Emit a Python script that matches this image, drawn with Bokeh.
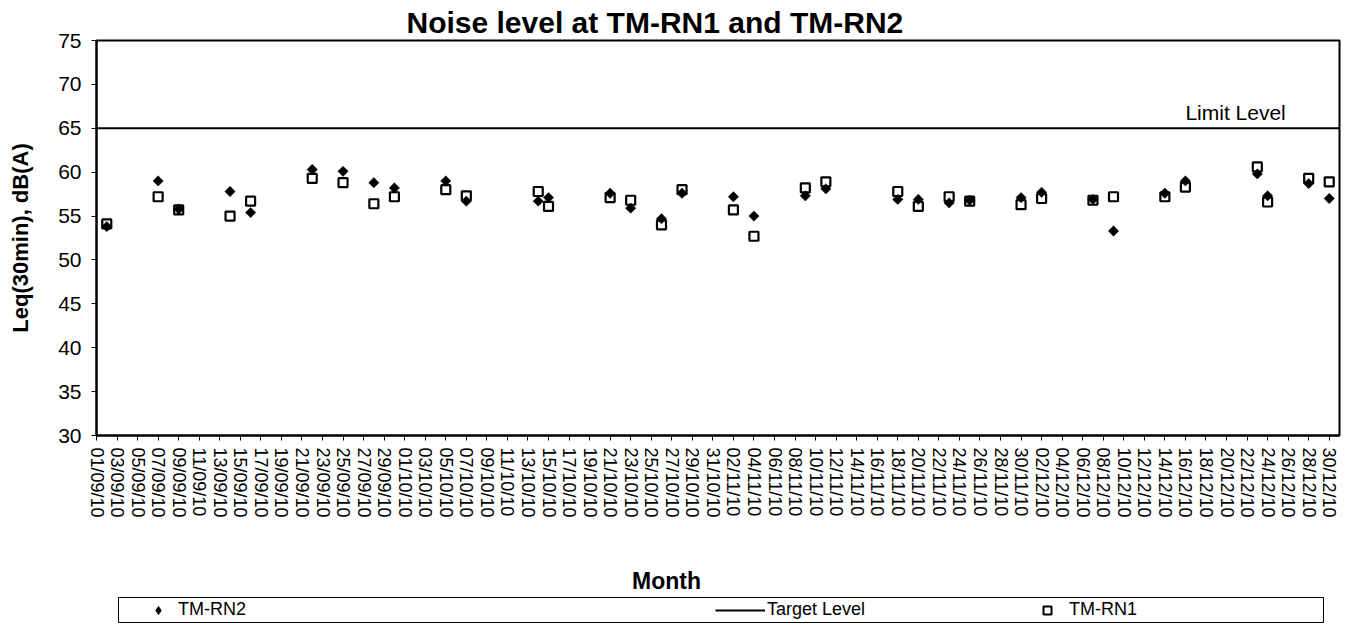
import math
import pandas as pd
from bokeh.plotting import figure
from bokeh.models import (Range1d, FixedTicker, DatetimeTickFormatter, Label,
                          Legend, LegendItem, SingleIntervalTicker, BoxAnnotation)
from bokeh.layouts import column
from bokeh.embed import file_html
from bokeh.resources import INLINE

# ---------------- data ----------------
dates = ["02/09/10", "07/09/10", "09/09/10", "14/09/10", "16/09/10", "22/09/10",
         "25/09/10", "28/09/10", "30/09/10", "05/10/10", "07/10/10", "14/10/10",
         "15/10/10", "21/10/10", "23/10/10", "26/10/10", "28/10/10", "02/11/10",
         "04/11/10", "09/11/10", "11/11/10", "18/11/10", "20/11/10", "23/11/10",
         "25/11/10", "30/11/10", "02/12/10", "07/12/10", "09/12/10", "14/12/10",
         "16/12/10", "23/12/10", "24/12/10", "28/12/10", "30/12/10"]
tm_rn2 = [53.8, 59.0, 55.8, 57.8, 55.4, 60.3, 60.1, 58.8, 58.2, 59.0, 56.7, 56.7,
          57.1, 57.6, 55.9, 54.7, 57.6, 57.2, 55.0, 57.3, 58.1, 56.9, 56.9, 56.5,
          56.8, 57.1, 57.7, 56.9, 53.3, 57.6, 59.0, 59.8, 57.3, 58.7, 57.0]
tm_rn1 = [54.1, 57.2, 55.7, 55.0, 56.7, 59.3, 58.8, 56.4, 57.2, 58.0, 57.3, 57.8,
          56.1, 57.1, 56.8, 54.0, 58.0, 55.7, 52.7, 58.2, 58.9, 57.8, 56.1, 57.2,
          56.7, 56.3, 57.0, 56.8, 57.2, 57.2, 58.3, 60.6, 56.6, 59.3, 58.9]
axis_dates = ["01/09/10", "31/12/10"]
limit_level = [65, 65]
limit_label_date = "16/12/10"
tick_first, tick_last, tick_step_days = "01/09/10", "30/12/10", 2
y_min, y_max, y_step = 30, 75, 5

FONT = "Liberation Sans"
W = 1343

x = pd.to_datetime(dates, format="%d/%m/%y")
x_axis = pd.to_datetime(axis_dates, format="%d/%m/%y")
ticks = pd.date_range(pd.to_datetime(tick_first, format="%d/%m/%y"),
                      pd.to_datetime(tick_last, format="%d/%m/%y"),
                      freq=f"{tick_step_days}D")
tick_ms = [t.timestamp() * 1000 for t in ticks]
shared_x = Range1d(x_axis[0], x_axis[1])

p = figure(width=W, height=530, x_axis_type="datetime",
           x_range=shared_x, y_range=Range1d(y_min, y_max),
           toolbar_location=None, output_backend="svg",
           min_border_left=96, min_border_right=4,
           min_border_top=40, min_border_bottom=95)

p.title.text = "Noise level at TM-RN1 and TM-RN2"
p.title.text_font = FONT
p.title.text_font_size = "30px"
p.title.text_font_style = "bold"
p.title.text_color = "black"
p.title.align = "left"
p.title.vertical_align = "top"
p.title.offset = 310
p.title.standoff = 0

p.xgrid.visible = False
p.ygrid.visible = False
p.outline_line_color = "black"
p.outline_line_width = 2
p.background_fill_color = "white"
p.border_fill_color = "white"

# axes
p.xaxis.ticker = FixedTicker(ticks=tick_ms)
fmt = "%d/%m/%y"
p.xaxis.formatter = DatetimeTickFormatter(days=fmt, months=fmt, years=fmt,
                                          hours=fmt, hourmin=fmt, minutes=fmt,
                                          minsec=fmt, seconds=fmt,
                                          milliseconds=fmt, microseconds=fmt)
p.xaxis.major_label_orientation = -math.pi / 2
p.xaxis.major_label_text_font = FONT
p.xaxis.major_label_text_font_size = "18px"
p.xaxis.major_label_text_color = "black"
p.xaxis.major_label_standoff = 7

p.yaxis.ticker = SingleIntervalTicker(interval=y_step)
p.yaxis.major_label_text_font = FONT
p.yaxis.major_label_text_font_size = "21px"
p.yaxis.major_label_text_color = "black"
p.yaxis.major_label_standoff = 10
p.yaxis.axis_label = "Leq(30min), dB(A)"
p.yaxis.axis_label_text_font = FONT
p.yaxis.axis_label_text_font_size = "22px"
p.yaxis.axis_label_text_font_style = "bold"
p.yaxis.axis_label_standoff = 22

for ax in (p.xaxis, p.yaxis):
    ax.axis_line_color = "black"
    ax.axis_line_width = 2
    ax.major_tick_line_color = "black"
    ax.major_tick_line_width = 1
    ax.major_tick_out = 5
    ax.major_tick_in = 0
    ax.minor_tick_line_color = None
    ax.axis_label_text_color = "black"

line_style = dict(line_color="black", line_width=2)
rn1_style = dict(marker="square", size=9, fill_color="white",
                 line_color="black", line_width=2.2)
rn2_style = dict(marker="square", angle=math.pi / 4, size=7.3,
                 fill_color="black", line_color="black", line_width=0.5)
# legend keys (legend glyphs are drawn unrotated, so use the diamond marker)
rn1_key = dict(marker="square", size=7, fill_color="white",
               line_color="black", line_width=2)
rn2_key = dict(marker="diamond", size=12, fill_color="black",
               line_color="black", line_width=1)

# limit line
p.line(x=list(x_axis), y=limit_level, **line_style)
p.add_layout(Label(x=pd.to_datetime(limit_label_date, format="%d/%m/%y"),
                   y=limit_level[0], y_offset=4, text="Limit Level",
                   text_font=FONT, text_font_size="21px", text_color="black",
                   text_baseline="bottom", text_align="left"))

# data
p.scatter(x=x, y=tm_rn1, **rn1_style)
p.scatter(x=x, y=tm_rn2, **rn2_style)

# ---------------- lower strip: axis title + legend ----------------
lf = figure(width=W, height=94, x_axis_type="datetime", x_range=shared_x,
            y_range=Range1d(0, 1), toolbar_location=None,
            output_backend="svg", x_axis_location=None, y_axis_location=None,
            min_border_left=96, min_border_right=4, min_border_top=0,
            min_border_bottom=0, outline_line_color=None)
lf.xgrid.visible = False
lf.ygrid.visible = False
lf.background_fill_color = "white"
lf.border_fill_color = "white"

# same series (outside this strip's y-range, so only their legend keys show)
l_line = lf.line(x=list(x_axis), y=limit_level, **line_style)
l_rn1 = lf.scatter(x=x, y=tm_rn1, **rn1_key)
l_rn2 = lf.scatter(x=x, y=tm_rn2, **rn2_key)

lf.add_layout(Label(x=x_axis[0], y=0, x_offset=570, y_offset=44,
                    text="Month", text_font=FONT, text_font_size="23px",
                    text_font_style="bold", text_color="black",
                    text_align="center", text_baseline="alphabetic"))

# legend frame
lf.add_layout(BoxAnnotation(left=22, right=1227, bottom=2, top=27,
                            left_units="screen", right_units="screen",
                            bottom_units="screen", top_units="screen",
                            fill_color=None, fill_alpha=0,
                            line_color="black", line_width=1, line_alpha=1))


def make_legend(label, rend, loc, gw, standoff):
    lg = Legend(items=[LegendItem(label=label, renderers=[rend])],
                location=loc, glyph_width=gw, glyph_height=20,
                label_standoff=standoff, label_text_font=FONT,
                label_text_font_size="18px", label_text_color="black",
                padding=0, margin=0, border_line_color=None,
                background_fill_alpha=0)
    lf.add_layout(lg)


make_legend("TM-RN2", l_rn2, (52, 4), 20, 10)
make_legend("Target Level", l_line, (619, 4), 50, 2)
make_legend("TM-RN1", l_rn1, (941, 4), 20, 12)

layout = column(p, lf, spacing=0)
open("out.html", "w").write(file_html(layout, INLINE))
